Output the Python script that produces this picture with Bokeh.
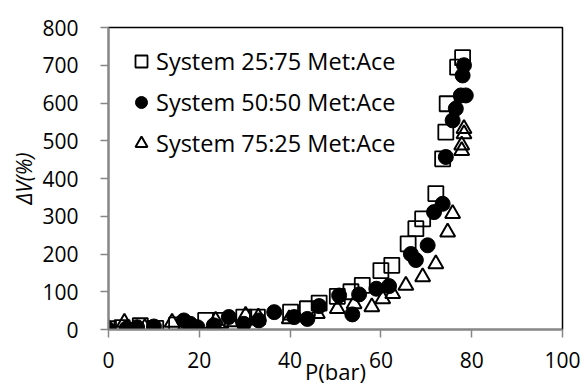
from bokeh.plotting import figure
from bokeh.models import Legend, LegendItem, FixedTicker
from bokeh.embed import file_html
from bokeh.resources import INLINE

# ---- data ----
p_2575 = [0, 3, 7, 10.4, 15, 21.4, 24.7, 29.8, 32.8, 40.1, 43.8, 46.4, 50.4, 53.4, 55.9, 60, 62.4, 66, 67.7, 69.2, 72.1, 73.6, 74.3, 74.6, 76.9, 78]
v_2575 = [2, 5, 10, 3, 12, 24, 24, 33, 33, 46, 55, 70, 88, 100, 117, 156, 170, 227, 267, 293, 360, 452, 523, 598, 695, 720]

p_5050 = [0, 4, 6.3, 10, 16.6, 18, 19.6, 23.2, 26.5, 29.8, 33.1, 36.5, 40.9, 43.8, 46.4, 50.8, 53.7, 55.2, 59, 61.8, 66.6, 67.7, 70.3, 71.7, 73.6, 74.3, 75.8, 76.5, 77.6, 78.7, 78, 78.3]
v_5050 = [0, 3, 6, 8, 24, 15, 6, 11, 33, 15, 24, 46, 33, 28, 62, 90, 40, 93, 108, 115, 200, 184, 223, 311, 333, 457, 554, 585, 620, 620, 673, 700]

p_7525 = [0, 3.5, 8, 14, 17, 23.6, 27, 30.2, 33, 39.8, 46, 50.4, 54.1, 58, 60.4, 62.6, 65.5, 69.2, 72.1, 74.7, 75.8, 77.8, 77.8, 78.3, 78.3]
v_7525 = [2, 19, 5, 19, 12, 24, 20, 37, 33, 28, 42, 55, 68, 60, 81, 95, 117, 139, 174, 258, 307, 474, 488, 518, 532]

series_names = ["System 25:75 Met:Ace", "System 50:50 Met:Ace", "System 75:25 Met:Ace"]
x_ticks = [0, 20, 40, 60, 80, 100]
y_ticks = [0, 100, 200, 300, 400, 500, 600, 700, 800]

FONT = "Open Sans"
FS = "21px"
AXIS_GRAY = "#878787"

p = figure(frame_width=454, frame_height=302, x_range=(0, 100), y_range=(0, 800),
           output_backend="svg", toolbar_location=None,
           min_border_left=108, min_border_right=22, min_border_top=27, min_border_bottom=57)

p.outline_line_color = "black"
p.outline_line_width = 1.5
p.xgrid.visible = False
p.ygrid.visible = False
p.background_fill_color = "white"
p.border_fill_color = "white"

for ax in (p.xaxis[0], p.yaxis[0]):
    ax.axis_line_color = AXIS_GRAY
    ax.axis_line_width = 2
    ax.major_tick_line_color = AXIS_GRAY
    ax.major_tick_line_width = 1.5
    ax.major_tick_in = 0
    ax.major_tick_out = 8
    ax.minor_tick_line_color = None
    ax.major_label_text_font = FONT
    ax.major_label_text_font_size = FS
    ax.major_label_text_color = "black"

p.xaxis[0].ticker = FixedTicker(ticks=x_ticks)
p.yaxis[0].ticker = FixedTicker(ticks=y_ticks)
p.xaxis[0].major_label_standoff = 14
p.yaxis[0].major_label_standoff = 22

p.xaxis[0].axis_label = "P(bar)"
p.xaxis[0].axis_label_text_font = FONT
p.xaxis[0].axis_label_text_font_size = "22px"
p.xaxis[0].axis_label_text_font_style = "normal"
p.xaxis[0].axis_label_text_color = "black"
p.xaxis[0].axis_label_standoff = -15

p.yaxis[0].axis_label = "ΔV(%)"
p.yaxis[0].axis_label_text_font = FONT
p.yaxis[0].axis_label_text_font_size = FS
p.yaxis[0].axis_label_text_font_style = "italic"
p.yaxis[0].axis_label_text_color = "black"
p.yaxis[0].axis_label_standoff = 1

r1 = p.scatter(p_2575, v_2575, marker="square", size=15, fill_color=None,
               line_color="black", line_width=1.8)
r2 = p.scatter(p_5050, v_5050, marker="circle", size=15, fill_color="black",
               line_color="black", line_width=1)
r3 = p.scatter(p_7525, v_7525, marker="triangle", size=15, fill_color=None,
               line_color="black", line_width=2)

legend = Legend(items=[LegendItem(label=series_names[0], renderers=[r1]),
                       LegendItem(label=series_names[1], renderers=[r2]),
                       LegendItem(label=series_names[2], renderers=[r3])],
                location="top_left")
legend.border_line_color = None
legend.background_fill_alpha = 0
legend.label_text_font = FONT
legend.label_text_font_size = "23.5px"
legend.label_text_color = "black"
legend.glyph_width = 30
legend.glyph_height = 30
legend.label_height = 30
legend.spacing = 9
legend.margin = 18
legend.padding = 10
legend.label_standoff = 0
p.add_layout(legend, "center")

open("out.html", "w").write(file_html(p, INLINE))
